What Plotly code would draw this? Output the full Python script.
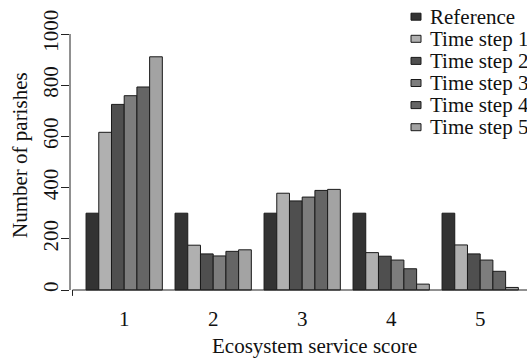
import plotly.graph_objects as go

# Ecosystem service score categories and parish counts per scenario
scores = [1, 2, 3, 4, 5]
score_labels = ["1", "2", "3", "4", "5"]
series_names = ["Reference", "Time step 1", "Time step 2", "Time step 3", "Time step 4", "Time step 5"]
reference = [300, 300, 300, 300, 300]
time_step_1 = [616, 175, 378, 146, 176]
time_step_2 = [725, 141, 348, 132, 141]
time_step_3 = [759, 133, 363, 117, 117]
time_step_4 = [793, 151, 389, 83, 73]
time_step_5 = [911, 157, 393, 23, 10]
y_ticks = [0, 200, 400, 600, 800, 1000]

series_values = [reference, time_step_1, time_step_2, time_step_3, time_step_4, time_step_5]
fill_colors = ["#333333", "#b0b0b0", "#4f4f4f", "#7d7d7d", "#656565", "#a3a3a3"]
edge_color = "#1a1a1a"
font_family = "Liberation Serif"
font_size = 21

W, H = 527, 360
ML, MR, MT, MB = 70, 0, 20, 60
PW, PH = W - ML - MR, H - MT - MB


def px_x(px):
    """Pixel column -> paper x."""
    return (px - ML) / PW


def px_y(py):
    """Pixel row -> paper y."""
    return (H - MB - py) / PH


fig = go.Figure()
for name, vals, col in zip(series_names, series_values, fill_colors):
    fig.add_trace(go.Bar(
        x=scores, y=vals, name=name,
        marker=dict(color=col, line=dict(color=edge_color, width=1)),
        showlegend=False,
    ))

shapes = []
# y axis line spanning the tick range
shapes.append(dict(type="line", xref="paper", yref="y", x0=0, x1=0,
                   y0=y_ticks[0], y1=y_ticks[-1], line=dict(color="#222", width=1)))
# x axis baseline with a tick at its left end
shapes.append(dict(type="line", xref="paper", yref="y", x0=px_x(72.5), x1=1.02,
                   y0=0, y1=0, line=dict(color="#222", width=1)))
shapes.append(dict(type="line", xref="paper", yref="y", x0=px_x(72.5), x1=px_x(72.5),
                   y0=0, y1=-23, line=dict(color="#222", width=1)))

annotations = []
# legend drawn as swatches plus labels
for i, (name, col) in enumerate(zip(series_names, fill_colors)):
    cy = 16.7 + 22.1 * i
    shapes.append(dict(type="rect", xref="paper", yref="paper",
                       x0=px_x(411), x1=px_x(421), y0=px_y(cy + 3.5), y1=px_y(cy - 3.5),
                       fillcolor=col, line=dict(color=edge_color, width=1)))
    annotations.append(dict(xref="paper", yref="paper", x=px_x(428), y=px_y(cy),
                            xanchor="left", yanchor="middle", text=name, showarrow=False,
                            font=dict(family=font_family, size=font_size, color="#111")))

# axis titles
annotations.append(dict(xref="paper", yref="paper", x=px_x(314), y=px_y(346),
                        xanchor="center", yanchor="middle", text="Ecosystem service score",
                        showarrow=False, font=dict(family=font_family, size=font_size, color="#111")))
annotations.append(dict(xref="paper", yref="paper", x=px_x(20), y=px_y(155),
                        xanchor="center", yanchor="middle", text="Number of parishes", textangle=-90,
                        showarrow=False, font=dict(family=font_family, size=font_size, color="#111")))

fig.update_layout(
    width=W, height=H,
    margin=dict(l=ML, r=MR, t=MT, b=MB, pad=0),
    paper_bgcolor="white", plot_bgcolor="white",
    barmode="group", bargap=1 / 7, bargroupgap=0,
    font=dict(family=font_family, size=font_size, color="#111"),
    shapes=shapes, annotations=annotations,
    xaxis=dict(range=[0.391, 5.526], tickvals=scores, ticktext=score_labels,
               showgrid=False, zeroline=False, showline=False, ticks="",
               ticklabelstandoff=4, fixedrange=True),
    yaxis=dict(range=[-39.06, 1054.7], tickvals=y_ticks, ticktext=[str(v) for v in y_ticks],
               tickangle=-90, showgrid=False, zeroline=False, showline=False,
               ticks="outside", ticklen=8, tickcolor="#222", tickwidth=1,
               ticklabelstandoff=-5, fixedrange=True),
)

fig.write_html("out.html")
